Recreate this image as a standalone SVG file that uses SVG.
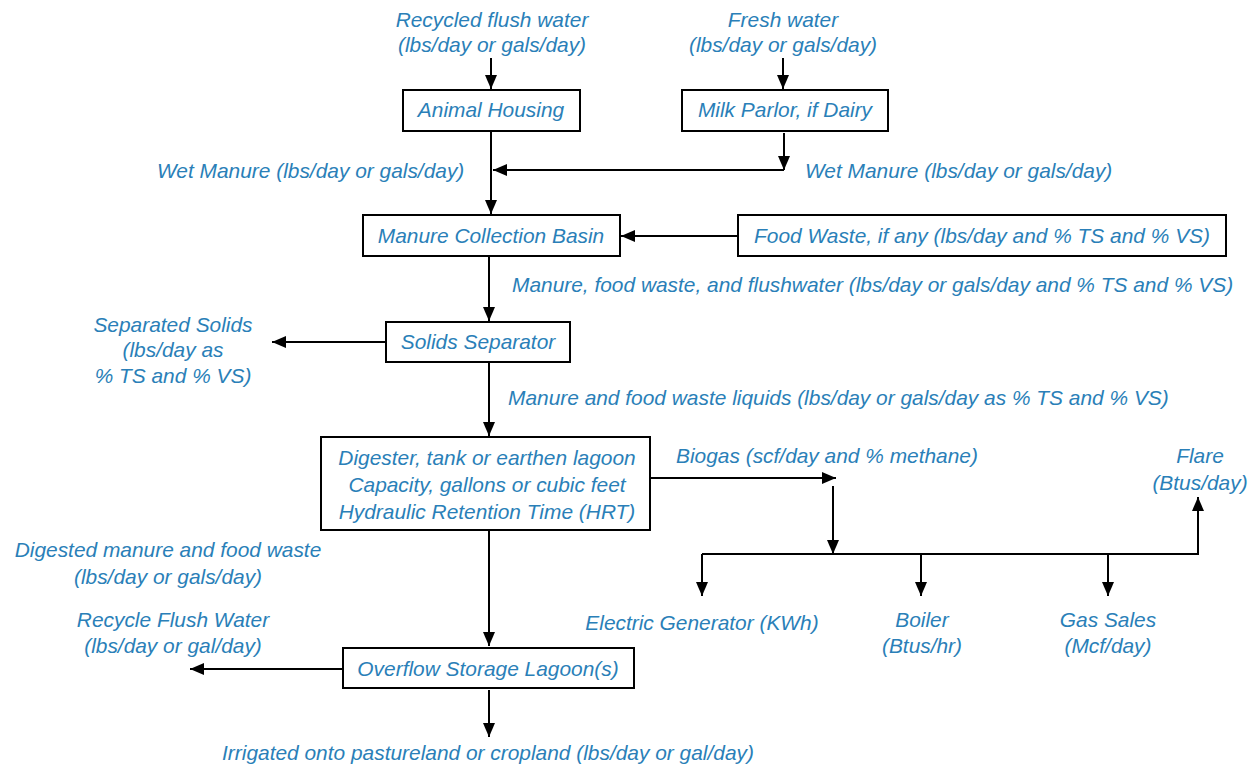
<svg xmlns="http://www.w3.org/2000/svg" width="1251" height="767" viewBox="0 0 1251 767">
<style>
.t{font-family:"Liberation Sans",Arial,sans-serif;font-style:italic;font-size:20.9px;fill:#2a7fb8;}
.m{text-anchor:middle;}
.box{fill:#fff;stroke:#000;stroke-width:2;}
.c{fill:none;stroke:#000;stroke-width:2;}
.a{marker-end:url(#ah);}
</style>
<defs>
<marker id="ah" markerUnits="userSpaceOnUse" markerWidth="14" markerHeight="12" refX="14" refY="6" orient="auto">
<path d="M0,0 L14,6 L0,12 z" fill="#000"/>
</marker>
</defs>
<rect width="1251" height="767" fill="#fff"/>
<g id="connectors">
<line class="c a" x1="491" y1="58" x2="491" y2="89"/>
<line class="c a" x1="783" y1="58" x2="783" y2="89"/>
<line class="c a" x1="784" y1="133" x2="784" y2="170"/>
<polyline class="c a" points="784,170 493,170"/>
<line class="c a" x1="491" y1="132" x2="491" y2="214"/>
<line class="c a" x1="738" y1="236" x2="621" y2="236"/>
<line class="c a" x1="489" y1="257" x2="489" y2="321"/>
<line class="c a" x1="386" y1="342" x2="272" y2="342"/>
<line class="c a" x1="489" y1="363" x2="489" y2="436"/>
<line class="c a" x1="651" y1="478" x2="836" y2="478"/>
<line class="c a" x1="833" y1="486" x2="833" y2="554"/>
<line class="c" x1="702" y1="554" x2="1199" y2="554"/>
<line class="c a" x1="702" y1="554" x2="702" y2="596"/>
<line class="c a" x1="921" y1="554" x2="921" y2="596"/>
<line class="c a" x1="1108" y1="554" x2="1108" y2="596"/>
<line class="c a" x1="1198" y1="555" x2="1198" y2="497"/>
<line class="c a" x1="489" y1="531" x2="489" y2="646"/>
<line class="c a" x1="343" y1="669" x2="190" y2="669"/>
<line class="c a" x1="489" y1="690" x2="489" y2="737"/>
</g>
<g id="labels">
<text class="t m" x="492" y="27">Recycled flush water</text>
<text class="t m" x="492" y="52">(lbs/day or gals/day)</text>
<text class="t m" x="783" y="27">Fresh water</text>
<text class="t m" x="783" y="52">(lbs/day or gals/day)</text>
<text class="t" x="157" y="178">Wet Manure (lbs/day or gals/day)</text>
<text class="t" x="805" y="178">Wet Manure (lbs/day or gals/day)</text>
<text class="t" x="512" y="292">Manure, food waste, and flushwater (lbs/day or gals/day and % TS and % VS)</text>
<text class="t m" x="173" y="332">Separated Solids</text>
<text class="t m" x="173" y="357">(lbs/day as</text>
<text class="t m" x="173" y="383">% TS and % VS)</text>
<text class="t" x="508" y="405">Manure and food waste liquids (lbs/day or gals/day as % TS and % VS)</text>
<text class="t" x="676" y="463">Biogas (scf/day and % methane)</text>
<text class="t m" x="1200" y="463">Flare</text>
<text class="t m" x="1200" y="490">(Btus/day)</text>
<text class="t m" x="168" y="557">Digested manure and food waste</text>
<text class="t m" x="168" y="584">(lbs/day or gals/day)</text>
<text class="t m" x="702" y="630">Electric Generator (KWh)</text>
<text class="t m" x="922" y="627">Boiler</text>
<text class="t m" x="922" y="653">(Btus/hr)</text>
<text class="t m" x="1108" y="627">Gas Sales</text>
<text class="t m" x="1108" y="653">(Mcf/day)</text>
<text class="t m" x="173" y="627">Recycle Flush Water</text>
<text class="t m" x="173" y="653">(lbs/day or gal/day)</text>
<text class="t m" x="488" y="760">Irrigated onto pastureland or cropland (lbs/day or gal/day)</text>
</g>
<g id="animal-housing">
<rect class="box" x="403" y="90" width="177" height="41"/>
<text class="t m" x="491" y="117">Animal Housing</text>
</g>
<g id="milk-parlor">
<rect class="box" x="682" y="90" width="206" height="41"/>
<text class="t m" x="785" y="117">Milk Parlor, if Dairy</text>
</g>
<g id="manure-collection-basin">
<rect class="box" x="363" y="215" width="257" height="41"/>
<text class="t m" x="491" y="243">Manure Collection Basin</text>
</g>
<g id="food-waste">
<rect class="box" x="738" y="215" width="488" height="41"/>
<text class="t m" x="982" y="243">Food Waste, if any (lbs/day and % TS and % VS)</text>
</g>
<g id="solids-separator">
<rect class="box" x="386" y="322" width="184" height="40"/>
<text class="t m" x="478" y="349">Solids Separator</text>
</g>
<g id="digester">
<rect class="box" x="321" y="437" width="329" height="93"/>
<text class="t m" x="487" y="465">Digester, tank or earthen lagoon</text>
<text class="t m" x="487" y="492">Capacity, gallons or cubic feet</text>
<text class="t m" x="487" y="519">Hydraulic Retention Time (HRT)</text>
</g>
<g id="overflow-lagoon">
<rect class="box" x="343" y="648" width="291" height="40"/>
<text class="t m" x="488" y="676">Overflow Storage Lagoon(s)</text>
</g>
</svg>
